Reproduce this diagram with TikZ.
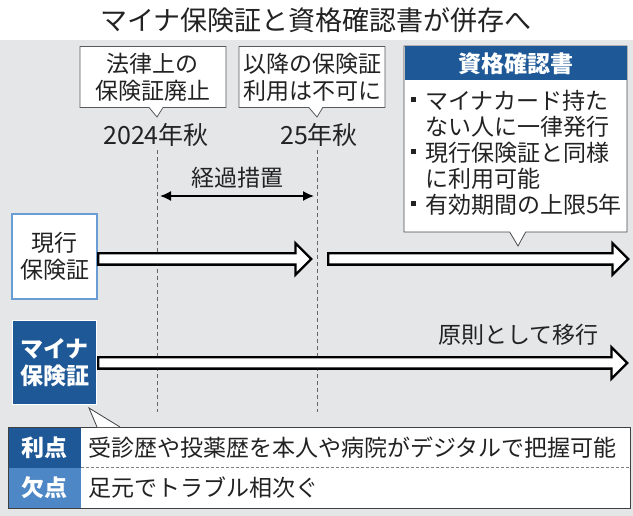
\documentclass[tikz,border=0pt]{standalone}
\usepackage{fontspec}
\setmainfont{Noto Sans CJK JP}
\usetikzlibrary{shapes.arrows,shapes.callouts,arrows.meta}
\definecolor{bggray}{HTML}{E4E6E8}
\definecolor{navy}{HTML}{1E5896}
\definecolor{skyline}{HTML}{6A9DD3}
\definecolor{midblue}{HTML}{4E87C5}
\definecolor{ink}{HTML}{222222}
\newcommand{\sqbul}{\makebox[14pt][l]{\raisebox{7pt}{\rule{5pt}{5pt}}}}
\begin{document}
\begin{tikzpicture}[x=1pt, y=-1pt, every node/.style={inner sep=0pt, text=ink, align=center, font=\fontsize{23}{27}\selectfont},
		tag/.style={rectangle callout, draw=gray!70!black, line width=0.8pt, fill=white, callout pointer width=14pt, minimum width=146pt, minimum height=61pt},
		hollow/.style={single arrow, draw=black, fill=white, line width=2.4pt, inner sep=4.5pt, single arrow head extend=10pt, anchor=west, minimum width=0pt},
		guide/.style={draw=gray!80!black, line width=0.8pt, dash pattern=on 4pt off 3pt},
		boldw/.style={text=white, font=\fontsize{23}{27}\selectfont\bfseries}]
	\useasboundingbox (0,0) rectangle (633,516);
	\fill[white] (0,0) rectangle (633,40);
	\fill[bggray] (0,40) rectangle (633,516);
	\node (title) at (316,20) {\fontsize{27}{30}\selectfont マイナ保険証と資格確認書が併存へ};
	% time marks
	\node[tag, callout absolute pointer={(157,117)}] (law) at (153,77) {法律上の\\保険証廃止};
	\node[tag, callout absolute pointer={(317,117)}] (ban) at (312,77) {以降の保険証\\利用は不可に};
	\node (y24) at (156,135) {\fontsize{25}{27}\selectfont 2024年秋};
	\node (y25) at (319,135) {\fontsize{25}{27}\selectfont 25年秋};
	\coordinate (d1t) at (157,150);
	\coordinate (d1b) at (157,412);
	\coordinate (d2t) at (317,150);
	\coordinate (d2b) at (317,412);
	\draw[guide] (d1t) -- (d1b);
	\draw[guide] (d2t) -- (d2b);
	\node (trans) at (237,178) {経過措置};
	\coordinate (p1) at (160,196);
	\coordinate (p2) at (314,196);
	\draw[{Latex[length=11pt,width=10pt]}-{Latex[length=11pt,width=10pt]}, line width=1.6pt] (p1) -- (p2);
	% cards
	\node[draw=skyline, line width=2pt, fill=white, minimum width=85pt, minimum height=85pt] (old) at (54.5,256.5) {現行\\保険証};
	\node[fill=navy, draw=white, line width=1pt, minimum width=84pt, minimum height=84pt, boldw] (myna) at (54.5,362.5) {マイナ\\保険証};
	\node[hollow, minimum height=213pt] (a1) at (97,259) {};
	\node[hollow, minimum height=300pt] (a2) at (327,259) {};
	\node[hollow, minimum height=529pt] (a3) at (97,363) {};
	\node[anchor=east] (shift) at (599,335) {原則として移行};
	% certificate
	\node[tag, draw=gray!60!black, minimum width=223pt, minimum height=186pt, callout pointer width=16pt, callout absolute pointer={(518,246)}] (cert) at (515.5,139) {};
	\node[fill=navy, minimum width=222pt, minimum height=34pt, anchor=north, boldw] (certhd) at ([yshift=-0.5pt]cert.north) {資格確認書};
	\node[anchor=north west, align=left, font=\fontsize{23}{26}\selectfont] (certbody) at (411,90) {\sqbul マイナカード持た\\\hspace*{14pt}ない人に一律発行\\\sqbul 現行保険証と同様\\\hspace*{14pt}に利用可能\\\sqbul 有効期間の上限5年};
	% pros and cons
	\node[draw=gray!50!black, line width=0.8pt, fill=white, minimum width=622pt, minimum height=81pt] (pros) at (319,467.5) {};
	\coordinate (tip) at (89,408);
	\coordinate (tl) at (97,427);
	\coordinate (tr) at (120,427);
	\fill[white] (tl) -- (tip) -- (tr) -- cycle;
	\draw[gray!50!black, line width=0.8pt] (tl) -- (tip) -- (tr);
	\node[fill=navy, minimum width=72pt, minimum height=40pt, anchor=north west, boldw] (plus) at (8.4,427.4) {利点};
	\node[fill=midblue, minimum width=72pt, minimum height=40pt, anchor=north west, boldw] (minus) at (plus.south west) {欠点};
	\draw[gray, line width=0.8pt, dash pattern=on 3pt off 2pt] (plus.south east) -- (pros.east |- plus.south);
	\node[anchor=west] (plustxt) at (88,448) {受診歴や投薬歴を本人や病院がデジタルで把握可能};
	\node[anchor=west] (minustxt) at (88,488) {足元でトラブル相次ぐ};
\end{tikzpicture}
\end{document}
